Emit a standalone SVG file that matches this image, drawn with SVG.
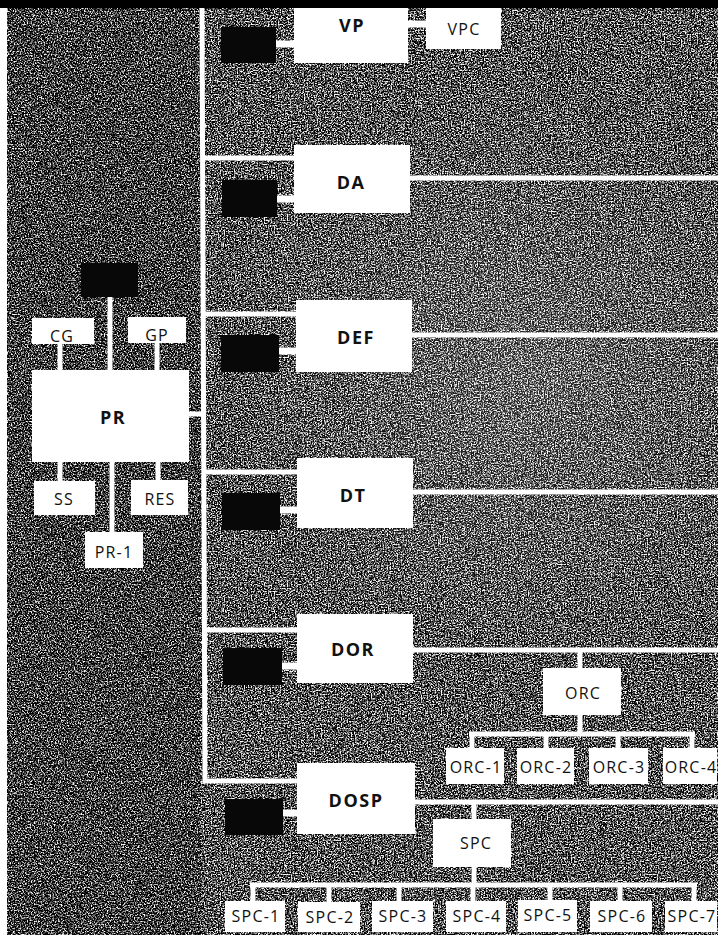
<svg xmlns="http://www.w3.org/2000/svg" width="718" height="935" viewBox="0 0 718 935">
<defs>
  <filter id="grainL" x="0" y="0" width="1" height="1" color-interpolation-filters="sRGB">
    <feTurbulence type="fractalNoise" baseFrequency="0.7" numOctaves="2" seed="7"/>
    <feColorMatrix type="matrix" values="1 0 0 0 0  1 0 0 0 0  1 0 0 0 0  0 0 0 0 1"/>
    <feComponentTransfer>
      <feFuncR type="linear" slope="3.5" intercept="-1.55"/>
      <feFuncG type="linear" slope="3.5" intercept="-1.55"/>
      <feFuncB type="linear" slope="3.5" intercept="-1.55"/>
    </feComponentTransfer>
  </filter>
  <filter id="grainR" x="0" y="0" width="1" height="1" color-interpolation-filters="sRGB">
    <feTurbulence type="fractalNoise" baseFrequency="0.7" numOctaves="2" seed="11"/>
    <feColorMatrix type="matrix" values="1 0 0 0 0  1 0 0 0 0  1 0 0 0 0  0 0 0 0 1"/>
    <feComponentTransfer>
      <feFuncR type="linear" slope="3.5" intercept="-1.45"/>
      <feFuncG type="linear" slope="3.5" intercept="-1.45"/>
      <feFuncB type="linear" slope="3.5" intercept="-1.45"/>
    </feComponentTransfer>
  </filter>
  <radialGradient id="glow" cx="520" cy="380" r="300" gradientUnits="userSpaceOnUse">
    <stop offset="0" stop-color="#ffffff" stop-opacity="0.15"/>
    <stop offset="1" stop-color="#ffffff" stop-opacity="0"/>
  </radialGradient>
  <style>
    .box { fill: #ffffff; }
    .blk { fill: #080808; }
    .ln { stroke: #ffffff; stroke-width: 5; fill: none; }
    .lnb { stroke: #ffffff; stroke-width: 7; fill: none; }
    .b { font-family: "Open Sans", "DejaVu Sans", sans-serif; font-weight: 700; font-size: 18px; letter-spacing: 1.5px; fill: #111; text-anchor: middle; }
    .r { font-family: "Open Sans", "DejaVu Sans", sans-serif; font-weight: 400; font-size: 16px; letter-spacing: 1.2px; fill: #111; text-anchor: middle; }
  </style>
</defs>

<!-- background -->
<rect x="7" y="8" width="194" height="927" fill="#444" filter="url(#grainL)"/>
<rect x="201" y="8" width="517" height="927" fill="#555" filter="url(#grainR)"/>
<rect x="201" y="8" width="517" height="927" fill="url(#glow)"/>
<rect x="0" y="0" width="718" height="8" fill="#000"/>
<rect x="0" y="8" width="7" height="927" fill="#fff"/>

<g id="connectors">
  <!-- main bus -->
  <path class="ln" d="M202,8 L205,781 L297,781"/>
  <line class="ln" x1="203" y1="158" x2="295" y2="158"/>
  <line class="ln" x1="203" y1="314" x2="296" y2="314"/>
  <line class="ln" x1="204" y1="472" x2="297" y2="472"/>
  <line class="ln" x1="204" y1="630" x2="297" y2="630"/>
  <line class="ln" x1="188" y1="414" x2="203" y2="414"/>
  <!-- black box links -->
  <line class="lnb" x1="275" y1="44" x2="295" y2="44"/>
  <line class="lnb" x1="276" y1="199" x2="295" y2="199"/>
  <line class="lnb" x1="278" y1="351" x2="297" y2="351"/>
  <line class="lnb" x1="279" y1="510" x2="298" y2="510"/>
  <line class="lnb" x1="281" y1="666" x2="298" y2="666"/>
  <line class="lnb" x1="282" y1="813" x2="298" y2="813"/>
  <!-- right lines -->
  <line class="lnb" x1="407" y1="24" x2="427" y2="24"/>
  <line class="ln" x1="409" y1="178" x2="718" y2="178"/>
  <line class="ln" x1="411" y1="335" x2="718" y2="335"/>
  <line class="ln" x1="412" y1="492" x2="718" y2="492"/>
  <line class="ln" x1="412" y1="650" x2="718" y2="650"/>
  <line class="ln" x1="414" y1="802" x2="718" y2="802"/>
  <!-- ORC tree -->
  <line class="ln" x1="580" y1="650" x2="580" y2="669"/>
  <line class="ln" x1="580" y1="714" x2="580" y2="734"/>
  <line class="ln" x1="469" y1="734" x2="695" y2="734"/>
  <line class="ln" x1="472" y1="734" x2="472" y2="749"/>
  <line class="ln" x1="546" y1="734" x2="546" y2="749"/>
  <line class="ln" x1="618" y1="734" x2="618" y2="749"/>
  <line class="ln" x1="692" y1="734" x2="692" y2="749"/>
  <!-- SPC tree -->
  <line class="ln" x1="474" y1="802" x2="474" y2="820"/>
  <line class="ln" x1="474" y1="866" x2="474" y2="885"/>
  <line class="ln" x1="250" y1="885" x2="697" y2="885"/>
  <line class="ln" x1="253" y1="885" x2="253" y2="902"/>
  <line class="ln" x1="329" y1="885" x2="329" y2="902"/>
  <line class="ln" x1="399" y1="885" x2="399" y2="902"/>
  <line class="ln" x1="473" y1="885" x2="473" y2="902"/>
  <line class="ln" x1="550" y1="885" x2="550" y2="902"/>
  <line class="ln" x1="620" y1="885" x2="620" y2="902"/>
  <line class="ln" x1="694" y1="885" x2="694" y2="902"/>
  <!-- PR links -->
  <line class="ln" x1="110" y1="296" x2="110" y2="371"/>
  <line class="ln" x1="60" y1="343" x2="60" y2="371"/>
  <line class="ln" x1="157" y1="342" x2="157" y2="371"/>
  <line class="ln" x1="60" y1="461" x2="60" y2="482"/>
  <line class="ln" x1="158" y1="461" x2="158" y2="481"/>
  <line class="ln" x1="112" y1="461" x2="112" y2="533"/>
</g>

<g id="pr-top"><rect class="blk" x="81" y="263" width="57" height="34"/></g>
<g id="cg"><rect class="box" x="32" y="318" width="62" height="26"/><text class="r" x="62" y="342">CG</text></g>
<g id="gp"><rect class="box" x="128" y="317" width="58" height="26"/><text class="r" x="157" y="341">GP</text></g>
<g id="pr"><rect class="box" x="32" y="370" width="157" height="92"/><text class="b" x="113" y="424">PR</text></g>
<g id="ss"><rect class="box" x="34" y="481" width="61" height="34"/><text class="r" x="64" y="505">SS</text></g>
<g id="res"><rect class="box" x="131" y="480" width="57" height="35"/><text class="r" x="160" y="505">RES</text></g>
<g id="pr-1"><rect class="box" x="85" y="532" width="58" height="36"/><text class="r" x="114" y="558">PR-1</text></g>

<g id="vp-blk"><rect class="blk" x="221" y="27" width="55" height="36"/></g>
<g id="vp"><rect class="box" x="294" y="8" width="114" height="55"/><text class="b" x="352" y="32">VP</text></g>
<g id="vpc"><rect class="box" x="426" y="8" width="75" height="41"/><text class="r" x="464" y="35">VPC</text></g>

<g id="da-blk"><rect class="blk" x="222" y="180" width="55" height="37"/></g>
<g id="da"><rect class="box" x="294" y="145" width="116" height="68"/><text class="b" x="351" y="189">DA</text></g>

<g id="def-blk"><rect class="blk" x="221" y="335" width="58" height="37"/></g>
<g id="def"><rect class="box" x="296" y="300" width="116" height="72"/><text class="b" x="356" y="344">DEF</text></g>

<g id="dt-blk"><rect class="blk" x="222" y="493" width="58" height="37"/></g>
<g id="dt"><rect class="box" x="297" y="458" width="116" height="70"/><text class="b" x="353" y="502">DT</text></g>

<g id="dor-blk"><rect class="blk" x="223" y="648" width="59" height="37"/></g>
<g id="dor"><rect class="box" x="297" y="614" width="116" height="69"/><text class="b" x="353" y="656">DOR</text></g>

<g id="dosp-blk"><rect class="blk" x="225" y="799" width="58" height="36"/></g>
<g id="dosp"><rect class="box" x="297" y="763" width="118" height="71"/><text class="b" x="356" y="807">DOSP</text></g>

<g id="orc"><rect class="box" x="543" y="668" width="78" height="47"/><text class="r" x="583" y="699">ORC</text></g>
<g id="orc-1"><rect class="box" x="446" y="748" width="58" height="36"/><text class="r" x="476" y="773">ORC-1</text></g>
<g id="orc-2"><rect class="box" x="517" y="748" width="57" height="36"/><text class="r" x="546" y="773">ORC-2</text></g>
<g id="orc-3"><rect class="box" x="589" y="748" width="59" height="36"/><text class="r" x="619" y="773">ORC-3</text></g>
<g id="orc-4"><rect class="box" x="663" y="748" width="54" height="36"/><text class="r" x="691" y="773">ORC-4</text></g>

<g id="spc"><rect class="box" x="433" y="819" width="78" height="48"/><text class="r" x="476" y="849">SPC</text></g>
<g id="spc-1"><rect class="box" x="225" y="901" width="60" height="31"/><text class="r" x="256" y="922">SPC-1</text></g>
<g id="spc-2"><rect class="box" x="298" y="902" width="62" height="30"/><text class="r" x="330" y="923">SPC-2</text></g>
<g id="spc-3"><rect class="box" x="372" y="901" width="61" height="31"/><text class="r" x="403" y="922">SPC-3</text></g>
<g id="spc-4"><rect class="box" x="446" y="901" width="60" height="31"/><text class="r" x="477" y="922">SPC-4</text></g>
<g id="spc-5"><rect class="box" x="518" y="900" width="59" height="32"/><text class="r" x="548" y="921">SPC-5</text></g>
<g id="spc-6"><rect class="box" x="590" y="901" width="62" height="31"/><text class="r" x="622" y="922">SPC-6</text></g>
<g id="spc-7"><rect class="box" x="665" y="901" width="52" height="31"/><text class="r" x="692" y="922">SPC-7</text></g>
</svg>
